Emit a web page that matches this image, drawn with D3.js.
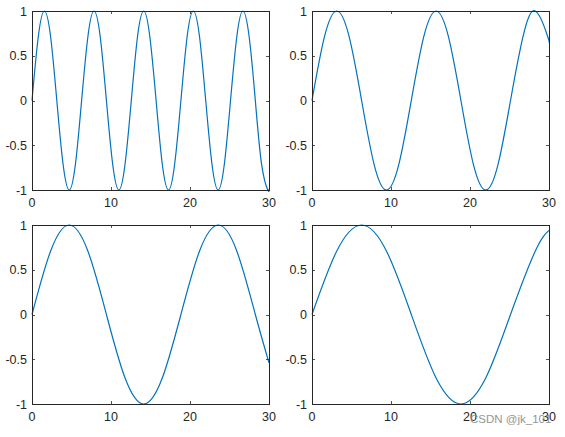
<!DOCTYPE html>
<html>
<head>
<meta charset="utf-8">
<script src="https://cdn.jsdelivr.net/npm/d3@7"></script>
<style>
  body { margin: 0; background: #fff; }
  svg text { font-family: "Liberation Sans", Arial, sans-serif; fill: #262626; }
</style>
</head>
<body>
<div id="chart"></div>
<script>
// values (peaks, troughs, zero crossings and half-way points)
var xTicks = [0, 10, 20, 30];
var yTicks = [-1, -0.5, 0, 0.5, 1];

var x1 = [0, 0.79, 1.57, 2.36, 3.14, 3.93, 4.71, 5.5, 6.28, 7.07, 7.85, 8.64, 9.42, 10.21, 11.0, 11.78,
    12.57, 13.35, 14.14, 14.92, 15.71, 16.49, 17.28, 18.06, 18.85, 19.63, 20.42, 21.21, 21.99, 22.78,
    23.56, 24.35, 25.13, 25.92, 26.7, 27.49, 28.27, 29.06, 29.85, 30];
var y1 = [0, 0.71, 1, 0.71, 0, -0.71, -1, -0.71, 0, 0.71, 1, 0.71, 0, -0.71, -1, -0.71,
    0, 0.71, 1, 0.71, 0, -0.71, -1, -0.71, 0, 0.71, 1, 0.71, 0, -0.71,
    -1, -0.71, 0, 0.71, 1, 0.71, 0, -0.71, -1, -0.99];

var x2 = [0, 1.57, 3.14, 4.71, 6.28, 7.85, 9.42, 11.0, 12.57, 14.14, 15.71, 17.28, 18.85, 20.42,
    21.99, 23.56, 25.13, 26.7, 28.27, 29.85, 30];
var y2 = [0, 0.71, 1, 0.71, 0, -0.71, -1, -0.71, 0, 0.71, 1, 0.71, 0, -0.71,
    -1, -0.71, 0, 0.71, 1, 0.71, 0.65];

var x3 = [0, 2.36, 4.71, 7.07, 9.42, 11.78, 14.14, 16.49, 18.85, 21.21, 23.56, 25.92, 28.27, 30];
var y3 = [0, 0.71, 1, 0.71, 0, -0.71, -1, -0.71, 0, 0.71, 1, 0.71, 0, -0.54];

var x4 = [0, 3.14, 6.28, 9.42, 12.57, 15.71, 18.85, 21.99, 25.13, 28.27, 30];
var y4 = [0, 0.71, 1, 0.71, 0, -0.71, -1, -0.71, 0, 0.71, 0.94];

var width = 565, height = 437;
var svg = d3.select("#chart").append("svg")
    .attr("width", width)
    .attr("height", height);

// panel boxes: left, top, width, height
var panels = [
    { left: 32, top: 11, xs: x1, ys: y1 },
    { left: 312, top: 11, xs: x2, ys: y2 },
    { left: 32, top: 225, xs: x3, ys: y3 },
    { left: 312, top: 225, xs: x4, ys: y4 }
];
var pw = 237, ph = 179;

panels.forEach(function(p) {
    var g = svg.append("g")
        .attr("transform", "translate(" + p.left + "," + p.top + ")");

    var x = d3.scaleLinear().domain([0, 30]).range([0, pw]);
    var y = d3.scaleLinear().domain([-1, 1]).range([ph, 0]);

    // curve first, box on top like matlab
    var pts = p.xs.map(function(v, i) { return [v, p.ys[i]]; });
    var line = d3.line()
        .x(function(d) { return x(d[0]); })
        .y(function(d) { return y(d[1]); })
        .curve(d3.curveNatural);

    g.append("path")
        .datum(pts)
        .attr("fill", "none")
        .attr("stroke", "#0072BD")
        .attr("stroke-width", 1.2)
        .attr("d", line);

    // inward ticks on all four sides
    var tl = 3;
    g.selectAll(".xt").data(xTicks).enter().append("path")
        .attr("stroke", "#262626").attr("stroke-width", 0.8)
        .attr("d", function(d) {
            var xx = Math.round(x(d)) + 0.5;
            return "M" + xx + "," + ph + "v" + (-tl) + "M" + xx + ",0v" + tl;
        });
    g.selectAll(".yt").data(yTicks).enter().append("path")
        .attr("stroke", "#262626").attr("stroke-width", 0.8)
        .attr("d", function(d) {
            var yy = Math.round(y(d)) + 0.5;
            return "M0," + yy + "h" + tl + "M" + pw + "," + yy + "h" + (-tl);
        });

    g.append("rect")
        .attr("x", 0.5).attr("y", 0.5)
        .attr("width", pw).attr("height", ph)
        .attr("fill", "none")
        .attr("stroke", "#262626")
        .attr("stroke-width", 1);

    g.selectAll(".xl").data(xTicks).enter().append("text")
        .attr("x", function(d) { return x(d); })
        .attr("y", ph + 17)
        .attr("text-anchor", "middle")
        .style("font-size", "12.5px")
        .text(function(d) { return d; });

    g.selectAll(".yl").data(yTicks).enter().append("text")
        .attr("x", -5)
        .attr("y", function(d) { return y(d) + 4.5; })
        .attr("text-anchor", "end")
        .style("font-size", "12.5px")
        .text(function(d) { return d; });
});

// watermark
svg.append("text")
    .attr("x", 470)
    .attr("y", 423)
    .style("font-size", "11.5px")
    .style("fill", "#8a8a8a")
    .style("opacity", 0.9)
    .text("CSDN @jk_101");
</script>
</body>
</html>
